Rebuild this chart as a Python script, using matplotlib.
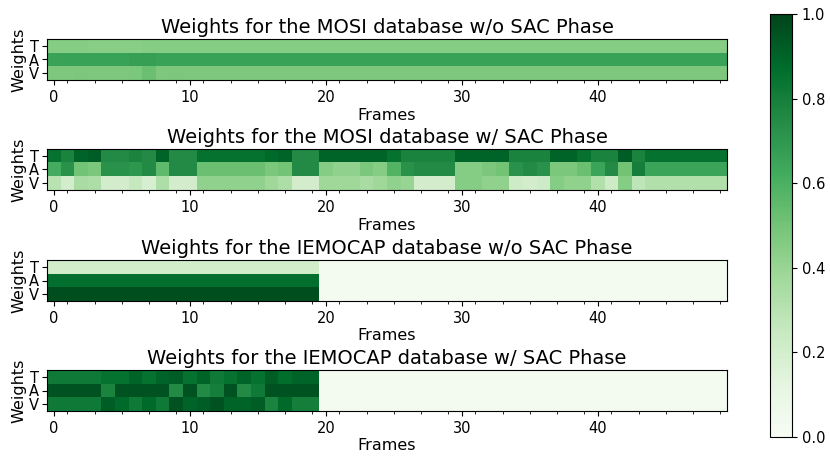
import numpy as np
import matplotlib
matplotlib.use('Agg')
from matplotlib import pyplot as plt

# modality rows and frame count
modalities = ['T', 'A', 'V']
n_frames = 50

titles = ['Weights for the MOSI database w/o SAC Phase',
          'Weights for the MOSI database w/ SAC Phase',
          'Weights for the IEMOCAP database w/o SAC Phase',
          'Weights for the IEMOCAP database w/ SAC Phase']

# MOSI w/o SAC (nearly flat)
mosi_wo_T = [0.45, 0.45, 0.45, 0.44, 0.44, 0.44, 0.44, 0.45, 0.45, 0.45] + [0.45] * 40
mosi_wo_A = [0.66, 0.66, 0.66, 0.66, 0.66, 0.66, 0.67, 0.67, 0.66, 0.66] + [0.66] * 40
mosi_wo_V = [0.47, 0.47, 0.48, 0.47, 0.47, 0.47, 0.48, 0.52, 0.47, 0.48] + [0.47] * 40

# MOSI w/ SAC
mosi_w_T = [0.85, 0.78, 0.9, 0.92, 0.75, 0.75, 0.78, 0.75, 0.9, 0.75,
            0.75, 0.85, 0.85, 0.85, 0.85, 0.85, 0.88, 0.9, 0.75, 0.75,
            0.9, 0.9, 0.9, 0.9, 0.9, 0.85, 0.78, 0.78, 0.78, 0.78,
            0.9, 0.9, 0.9, 0.9, 0.78, 0.78, 0.78, 0.9, 0.9, 0.85,
            0.78, 0.78, 0.92, 0.78, 0.85, 0.85, 0.85, 0.85, 0.85, 0.85]
mosi_w_A = [0.62, 0.72, 0.5, 0.48, 0.72, 0.72, 0.7, 0.75, 0.55, 0.75,
            0.75, 0.52, 0.52, 0.52, 0.52, 0.52, 0.48, 0.5, 0.75, 0.75,
            0.45, 0.42, 0.42, 0.48, 0.45, 0.58, 0.72, 0.75, 0.75, 0.75,
            0.45, 0.45, 0.48, 0.5, 0.72, 0.75, 0.72, 0.48, 0.48, 0.52,
            0.65, 0.75, 0.5, 0.8, 0.65, 0.65, 0.65, 0.65, 0.65, 0.65]
mosi_w_V = [0.3, 0.2, 0.35, 0.33, 0.2, 0.2, 0.25, 0.18, 0.33, 0.2,
            0.2, 0.42, 0.42, 0.42, 0.42, 0.42, 0.38, 0.33, 0.2, 0.2,
            0.38, 0.38, 0.38, 0.35, 0.38, 0.42, 0.4, 0.2, 0.2, 0.2,
            0.45, 0.45, 0.42, 0.42, 0.22, 0.2, 0.22, 0.45, 0.42, 0.42,
            0.32, 0.22, 0.45, 0.28, 0.32, 0.32, 0.32, 0.32, 0.32, 0.32]

# IEMOCAP w/o SAC (20 frames, rest padding)
iemo_wo_T = [0.21] * 20 + [0.03] * 30
iemo_wo_A = [0.86] * 20 + [0.03] * 30
iemo_wo_V = [0.97] * 20 + [0.03] * 30

# IEMOCAP w/ SAC
iemo_w_T = [0.82, 0.82, 0.82, 0.82, 0.85, 0.85, 0.9, 0.85, 0.9, 0.92,
            0.85, 0.9, 0.82, 0.85, 0.9, 0.85, 0.92, 0.87, 0.9, 0.9] + [0.03] * 30
iemo_w_A = [0.95, 0.95, 0.95, 0.95, 0.78, 0.95, 0.95, 0.95, 0.95, 0.75,
            0.95, 0.75, 0.8, 0.95, 0.75, 0.82, 0.95, 0.95, 0.95, 0.95] + [0.03] * 30
iemo_w_V = [0.82, 0.82, 0.82, 0.82, 0.92, 0.88, 0.82, 0.88, 0.82, 0.95,
            0.9, 0.92, 0.95, 0.9, 0.9, 0.92, 0.78, 0.88, 0.8, 0.8] + [0.03] * 30

weights = [
    np.array([mosi_wo_T, mosi_wo_A, mosi_wo_V]),
    np.array([mosi_w_T, mosi_w_A, mosi_w_V]),
    np.array([iemo_wo_T, iemo_wo_A, iemo_wo_V]),
    np.array([iemo_w_T, iemo_w_A, iemo_w_V]),
]

fig = plt.figure(figsize=(8.3, 4.62), dpi=100)
H = 462.0
W = 830.0
bottoms_px = [80, 190, 301, 411]

for i, (w, title) in enumerate(zip(weights, titles)):
    ax = fig.add_axes([47 / W, 1 - bottoms_px[i] / H, 680 / W, 41 / H])
    im = ax.imshow(w, cmap='Greens', vmin=0, vmax=1, aspect='auto', interpolation='nearest')
    ax.set_title(title, fontsize=14, pad=4)
    ax.set_yticks(range(3))
    ax.set_yticklabels(modalities, fontsize=10.5)
    ax.set_xticks([0, 10, 20, 30, 40])
    ax.set_xticks(np.arange(1, n_frames, 2), minor=True)
    ax.tick_params(axis='x', labelsize=10.5)
    ax.tick_params(axis='y', pad=2)
    ax.set_xlabel('Frames', fontsize=11.5, labelpad=2)
    ax.set_ylabel('Weights', fontsize=11.5, labelpad=2)

cax = fig.add_axes([770 / W, 1 - 437 / H, 22 / W, 423 / H])
cb = fig.colorbar(im, cax=cax)
cb.set_ticks([0.0, 0.2, 0.4, 0.6, 0.8, 1.0])
cb.ax.tick_params(labelsize=10.5)

plt.savefig('out.png', dpi=100)
